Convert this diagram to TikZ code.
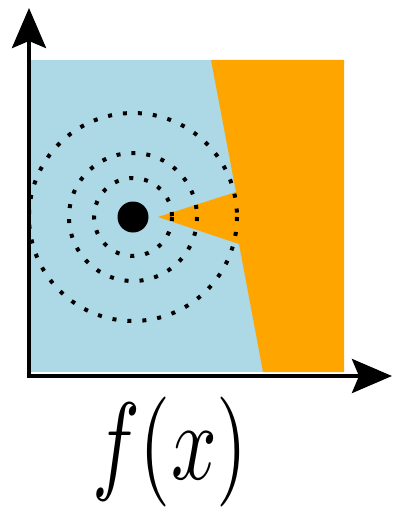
\documentclass[tikz,border=0pt]{standalone}
\usetikzlibrary{arrows.meta}
\definecolor{regblue}{HTML}{ADD8E6}
\definecolor{regorange}{HTML}{FFA500}
\tikzset{
  axisline/.style={line width=4pt,-{Stealth[length=40pt,width=34pt,inset=7pt]}},
  dotring/.style={line width=4pt,dash pattern=on 4pt off 11pt},
}
\begin{document}
\begin{tikzpicture}[x=1pt,y=-1pt]
\useasboundingbox (0,0) rectangle (393,519);
% regions
\fill[regblue] (31,60) rectangle (344,372);
\fill[regorange] (211,60) -- (344,60) -- (344,372) -- (263,372) -- (239,244) -- (158,217) -- (236,192) -- cycle;
% dotted rings
\coordinate (c) at (133,217);
\draw[dotring] (c) circle[radius=104];
\draw[dotring] (c) circle[radius=64];
\draw[dotring] (c) circle[radius=39];
\node[circle,fill=black,minimum size=31pt,inner sep=0pt] (dot) at (c) {};
% axes
\coordinate (o) at (29,376);
\coordinate (ytip) at (29,8);
\coordinate (xtip) at (392,376);
\draw[axisline] ([yshift=2pt]o) -- (ytip);
\draw[axisline] ([xshift=-2pt]o) -- (xtip);
% label
\node (lbl) at (170,452) {\scalebox{8}[11]{$f(x)$}};
\end{tikzpicture}
\end{document}
